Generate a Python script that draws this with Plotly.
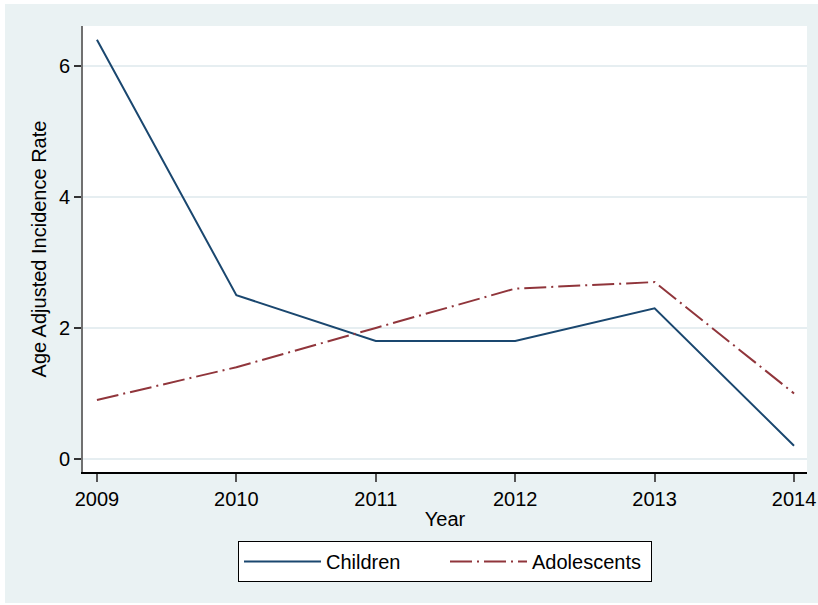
import plotly.graph_objects as go

# Incidence data by year
years = [2009, 2010, 2011, 2012, 2013, 2014]
children = [6.4, 2.5, 1.8, 1.8, 2.3, 0.2]
adolescents = [0.9, 1.4, 2.0, 2.6, 2.7, 1.0]

y_ticks = [0, 2, 4, 6]

FONT = "Liberation Sans, Arial, sans-serif"
FS = 20
REGION_BG = "#EAF2F3"
GRID = "#E6EEF1"

W, H = 818, 605
L, R, T, B = 83, 11, 26, 133
PW, PH = W - L - R, H - T - B


def px_x(px):
    return (px - L) / PW


def px_y(py):
    return (H - B - py) / PH


fig = go.Figure()
fig.add_trace(go.Scatter(
    x=years, y=children, mode="lines", name="Children",
    line=dict(color="#1A476F", width=2),
))
fig.add_trace(go.Scatter(
    x=years, y=adolescents, mode="lines", name="Adolescents",
    line=dict(color="#90353B", width=2, dash="22px,5px,2px,5px"),
))

# graph region background and white plot region
fig.add_shape(type="rect", xref="paper", yref="paper",
              x0=px_x(5), x1=px_x(818), y0=px_y(603), y1=px_y(4),
              fillcolor=REGION_BG, line_width=0, layer="below")
fig.add_shape(type="rect", xref="paper", yref="paper",
              x0=0, x1=1, y0=0, y1=1,
              fillcolor="white", line_width=0, layer="below")

fig.update_layout(
    width=W, height=H,
    margin=dict(l=L, r=R, t=T, b=B, pad=0, autoexpand=False),
    paper_bgcolor="white",
    plot_bgcolor="rgba(0,0,0,0)",
    font=dict(family=FONT, size=FS, color="black"),
    showlegend=True,
    legend=dict(
        orientation="h", x=0.5, xanchor="center", y=px_y(541), yanchor="top",
        bgcolor="white", bordercolor="black", borderwidth=1,
        font=dict(size=FS), itemwidth=77,
        entrywidth=114, entrywidthmode="pixels",
    ),
    xaxis=dict(
        range=[2008.9, 2014.093], tickvals=years, ticktext=[str(y) for y in years],
        showgrid=False, zeroline=False, automargin=False,
        showline=True, linecolor="black", linewidth=1.5,
        ticks="outside", ticklen=8, tickcolor="#555", tickwidth=1.5,
        title=dict(text="Year", standoff=3, font=dict(size=FS)),
    ),
    yaxis=dict(
        range=[-0.2, 6.61], tickvals=y_ticks,
        showgrid=True, gridcolor=GRID, gridwidth=2, zeroline=False,
        automargin=False,
        showline=True, linecolor="#707070", linewidth=2,
        ticks="outside", ticklen=7, tickcolor="#333", tickwidth=1.5,
        title=dict(text="Age Adjusted Incidence Rate", standoff=7, font=dict(size=FS)),
    ),
)

fig.write_html("out.html")
